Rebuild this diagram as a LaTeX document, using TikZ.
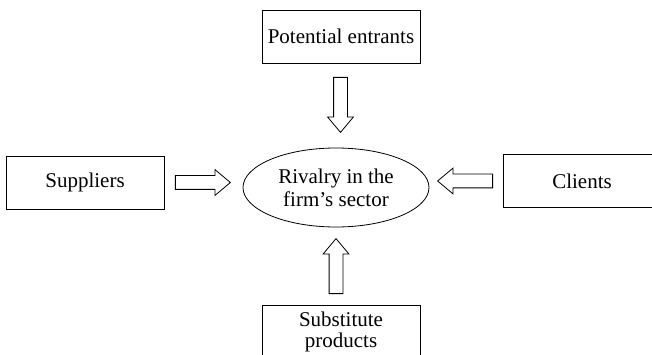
\documentclass[tikz,border=0pt]{standalone}
\usepackage{fontspec}
\setmainfont{Liberation Serif}
\usetikzlibrary{shapes.geometric,shapes.arrows}
\begin{document}
\begin{tikzpicture}[x=1pt,y=-1pt,
  force/.style={draw, line width=0.8pt, minimum width=158pt, minimum height=53pt,
    inner sep=0pt, align=center, font=\fontsize{21}{21}\selectfont},
  rival/.style={draw, ellipse, line width=0.8pt, minimum width=186pt, minimum height=79pt,
    inner sep=0pt, align=center, font=\fontsize{21}{23}\selectfont},
  blockarrow/.style={draw, single arrow, line width=0.8pt, minimum height=55pt,
    text height=0pt, text depth=0pt, text width=0pt, inner xsep=0pt, inner ysep=6.5pt,
    single arrow head extend=6pt, single arrow tip angle=80,
    single arrow head indent=0pt, anchor=tip}]
  \useasboundingbox (0,0) rectangle (652,355);
  \clip (0,0) rectangle (652,355);
  % the five forces
  \node[force] (entrants) at (341,36.5) {Potential entrants};
  \node[force] (suppliers) at (85,182.5) {Suppliers};
  \node[force] (clients) at (582,181) {Clients};
  \node[force] (substitutes) at (341,331.5) {Substitute\\products};
  \node[rival] (rivalry) at (336,187.5) {Rivalry in the\\firm’s sector};
  % pressure arrows pointing towards the rivalry, placed by their tips
  \node[blockarrow, rotate=-90] (aentrants) at (340.5,133) {};
  \node[blockarrow] (asuppliers) at (231,182.5) {};
  \node[blockarrow, rotate=180] (aclients) at (437,181) {};
  \node[blockarrow, rotate=90] (asubstitutes) at (336,238) {};
\end{tikzpicture}
\end{document}
